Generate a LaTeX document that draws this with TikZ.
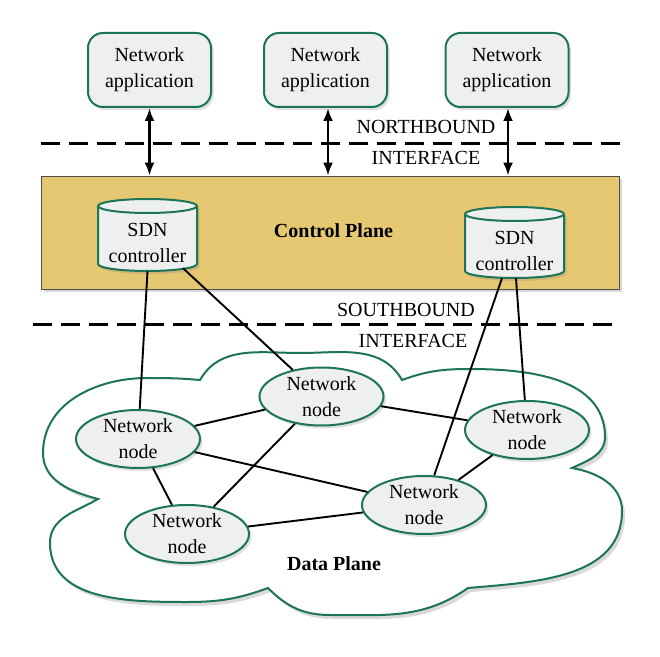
\documentclass[tikz,border=0pt]{standalone}
\usepackage{fontspec}
\setmainfont{Liberation Serif}
\usetikzlibrary{shadows,arrows.meta,calc,shapes.geometric}
\definecolor{grn}{HTML}{1C7556}
\definecolor{gold}{HTML}{E6C872}
\definecolor{boxfill}{HTML}{EEF0EF}
\begin{document}
\begin{tikzpicture}[x=1pt,y=1pt,
  txt/.style={font=\fontsize{20}{26}\selectfont, align=center},
  bold/.style={font=\fontsize{20}{26}\selectfont\bfseries},
  shad/.style={drop shadow={shadow xshift=2.5pt,shadow yshift=-3pt,opacity=0.25}},
  app/.style={draw=grn, line width=2pt, fill=boxfill, rounded corners=15pt,
    minimum width=123pt, minimum height=74pt, inner sep=0pt, txt, shad},
  nnode/.style={ellipse, draw=grn, line width=2pt, fill=boxfill,
    minimum width=124pt, minimum height=58pt, inner sep=0pt, shad},
  link/.style={line width=1.9pt, black},
  iface/.style={dash pattern=on 19pt off 9pt, line width=3pt},
  biarrow/.style={{Latex[length=13pt,width=10pt]}-{Latex[length=13pt,width=10pt]}, line width=2.6pt},
  cyl/.style={fill=boxfill, draw=grn, line width=2pt, shad}
]
\useasboundingbox (0,0) rectangle (660,656);

% Data plane cloud
\draw[draw=grn, line width=2pt, fill=white,
  drop shadow={shadow xshift=3pt,shadow yshift=-4pt,opacity=0.3}]
  (98,157) to[out=165,in=270] (43,203) to[out=90,in=180] (147,278)
  to[out=0,in=175] (200,276) to[out=60,in=180] (300,303)
  to[out=0,in=120] (402,276) to[out=20,in=180] (470,287)
  to[out=0,in=90] (605,219) to[out=270,in=25] (572,188)
  to[out=-10,in=90] (622,145) to[out=270,in=5] (468,68)
  to[out=215,in=0] (330,41) to[out=180,in=-45] (268,68)
  to[out=200,in=0] (187,54) to[out=180,in=270] (50,113)
  to[out=90,in=210] cycle;
\node[bold] (dp) at (334,92) {Data Plane};

% Control plane
\node[draw=gray!60!black, line width=0.6pt, fill=gold, minimum width=578pt,
  minimum height=113pt, inner sep=0pt,
  drop shadow={shadow xshift=3pt,shadow yshift=-3pt,opacity=0.3}] (cp) at (330,423.5) {};
\node[bold] (cpt) at (333.5,425) {Control Plane};

% interfaces
\coordinate (nl) at (41,512);
\coordinate (nr) at (625,512);
\draw[iface] (nl) -- (nr);
\node[txt] (nb) at (426,529) {NORTHBOUND};
\node[txt] (ni) at (426,498) {INTERFACE};
\coordinate (sl) at (33,331);
\coordinate (sr) at (617,331);
\draw[iface] (sl) -- (sr);
\node[txt] (sb) at (406,346) {SOUTHBOUND};
\node[txt] (si) at (413,315) {INTERFACE};

% applications
\node[app] (app1) at (149.5,586) {Network\\application};
\node[app] (app2) at (325.5,586) {Network\\application};
\node[app] (app3) at (507,586) {Network\\application};
\draw[biarrow] (app1.south) -- (app1.south |- cp.north);
\draw[biarrow] ([xshift=2.5pt]app2.south) -- ([xshift=2.5pt]app2.south |- cp.north);
\draw[biarrow] ([xshift=1pt]app3.south) -- ([xshift=1pt]app3.south |- cp.north);

% SDN controllers (cylinders)
\path[cyl] (98,450) -- (98,392) arc[start angle=180,end angle=360,x radius=49.5,y radius=7]
  -- (197,450) arc[start angle=0,end angle=180,x radius=49.5,y radius=7] -- cycle;
\draw[grn, line width=2pt] (98,450) arc[start angle=180,end angle=360,x radius=49.5,y radius=7];
\node[minimum width=99pt, minimum height=72pt, inner sep=0pt] (sdn1) at (147.5,421) {};
\node[txt] (sdn1t) at (147.5,413) {SDN\\controller};

\path[cyl] (465,442) -- (465,385) arc[start angle=180,end angle=360,x radius=49.5,y radius=7]
  -- (564,442) arc[start angle=0,end angle=180,x radius=49.5,y radius=7] -- cycle;
\draw[grn, line width=2pt] (465,442) arc[start angle=180,end angle=360,x radius=49.5,y radius=7];
\node[minimum width=99pt, minimum height=71pt, inner sep=0pt] (sdn2) at (514.5,413.5) {};
\node[txt] (sdn2t) at (514.5,405) {SDN\\controller};

% network nodes
\node[nnode, label={[txt]center:Network\\node}] (n1) at (321.5,259.5) {};
\node[nnode, label={[txt]center:Network\\node}] (n2) at (138,217) {};
\node[nnode, label={[txt]center:Network\\node}] (n3) at (527,226) {};
\node[nnode, label={[txt]center:Network\\node}] (n4) at (424,151) {};
\node[nnode, label={[txt]center:Network\\node}] (n5) at (187,122) {};

% links
\draw[link] (sdn1.south) -- (n2);
\draw[link] ($(sdn1.south)+(35.5,3)$) -- (n1);
\draw[link] ($(sdn2.south)+(-12.5,0)$) -- (n4);
\draw[link] ($(sdn2.south)+(1.5,0)$) -- (n3);
\draw[link] (n2) -- (n1);
\draw[link] (n1) -- (n3);
\draw[link] (n2) -- (n4);
\draw[link] (n1) -- (n5);
\draw[link] (n2) -- (n5);
\draw[link] (n5) -- (n4);
\draw[link] (n4) -- (n3);
\end{tikzpicture}
\end{document}
